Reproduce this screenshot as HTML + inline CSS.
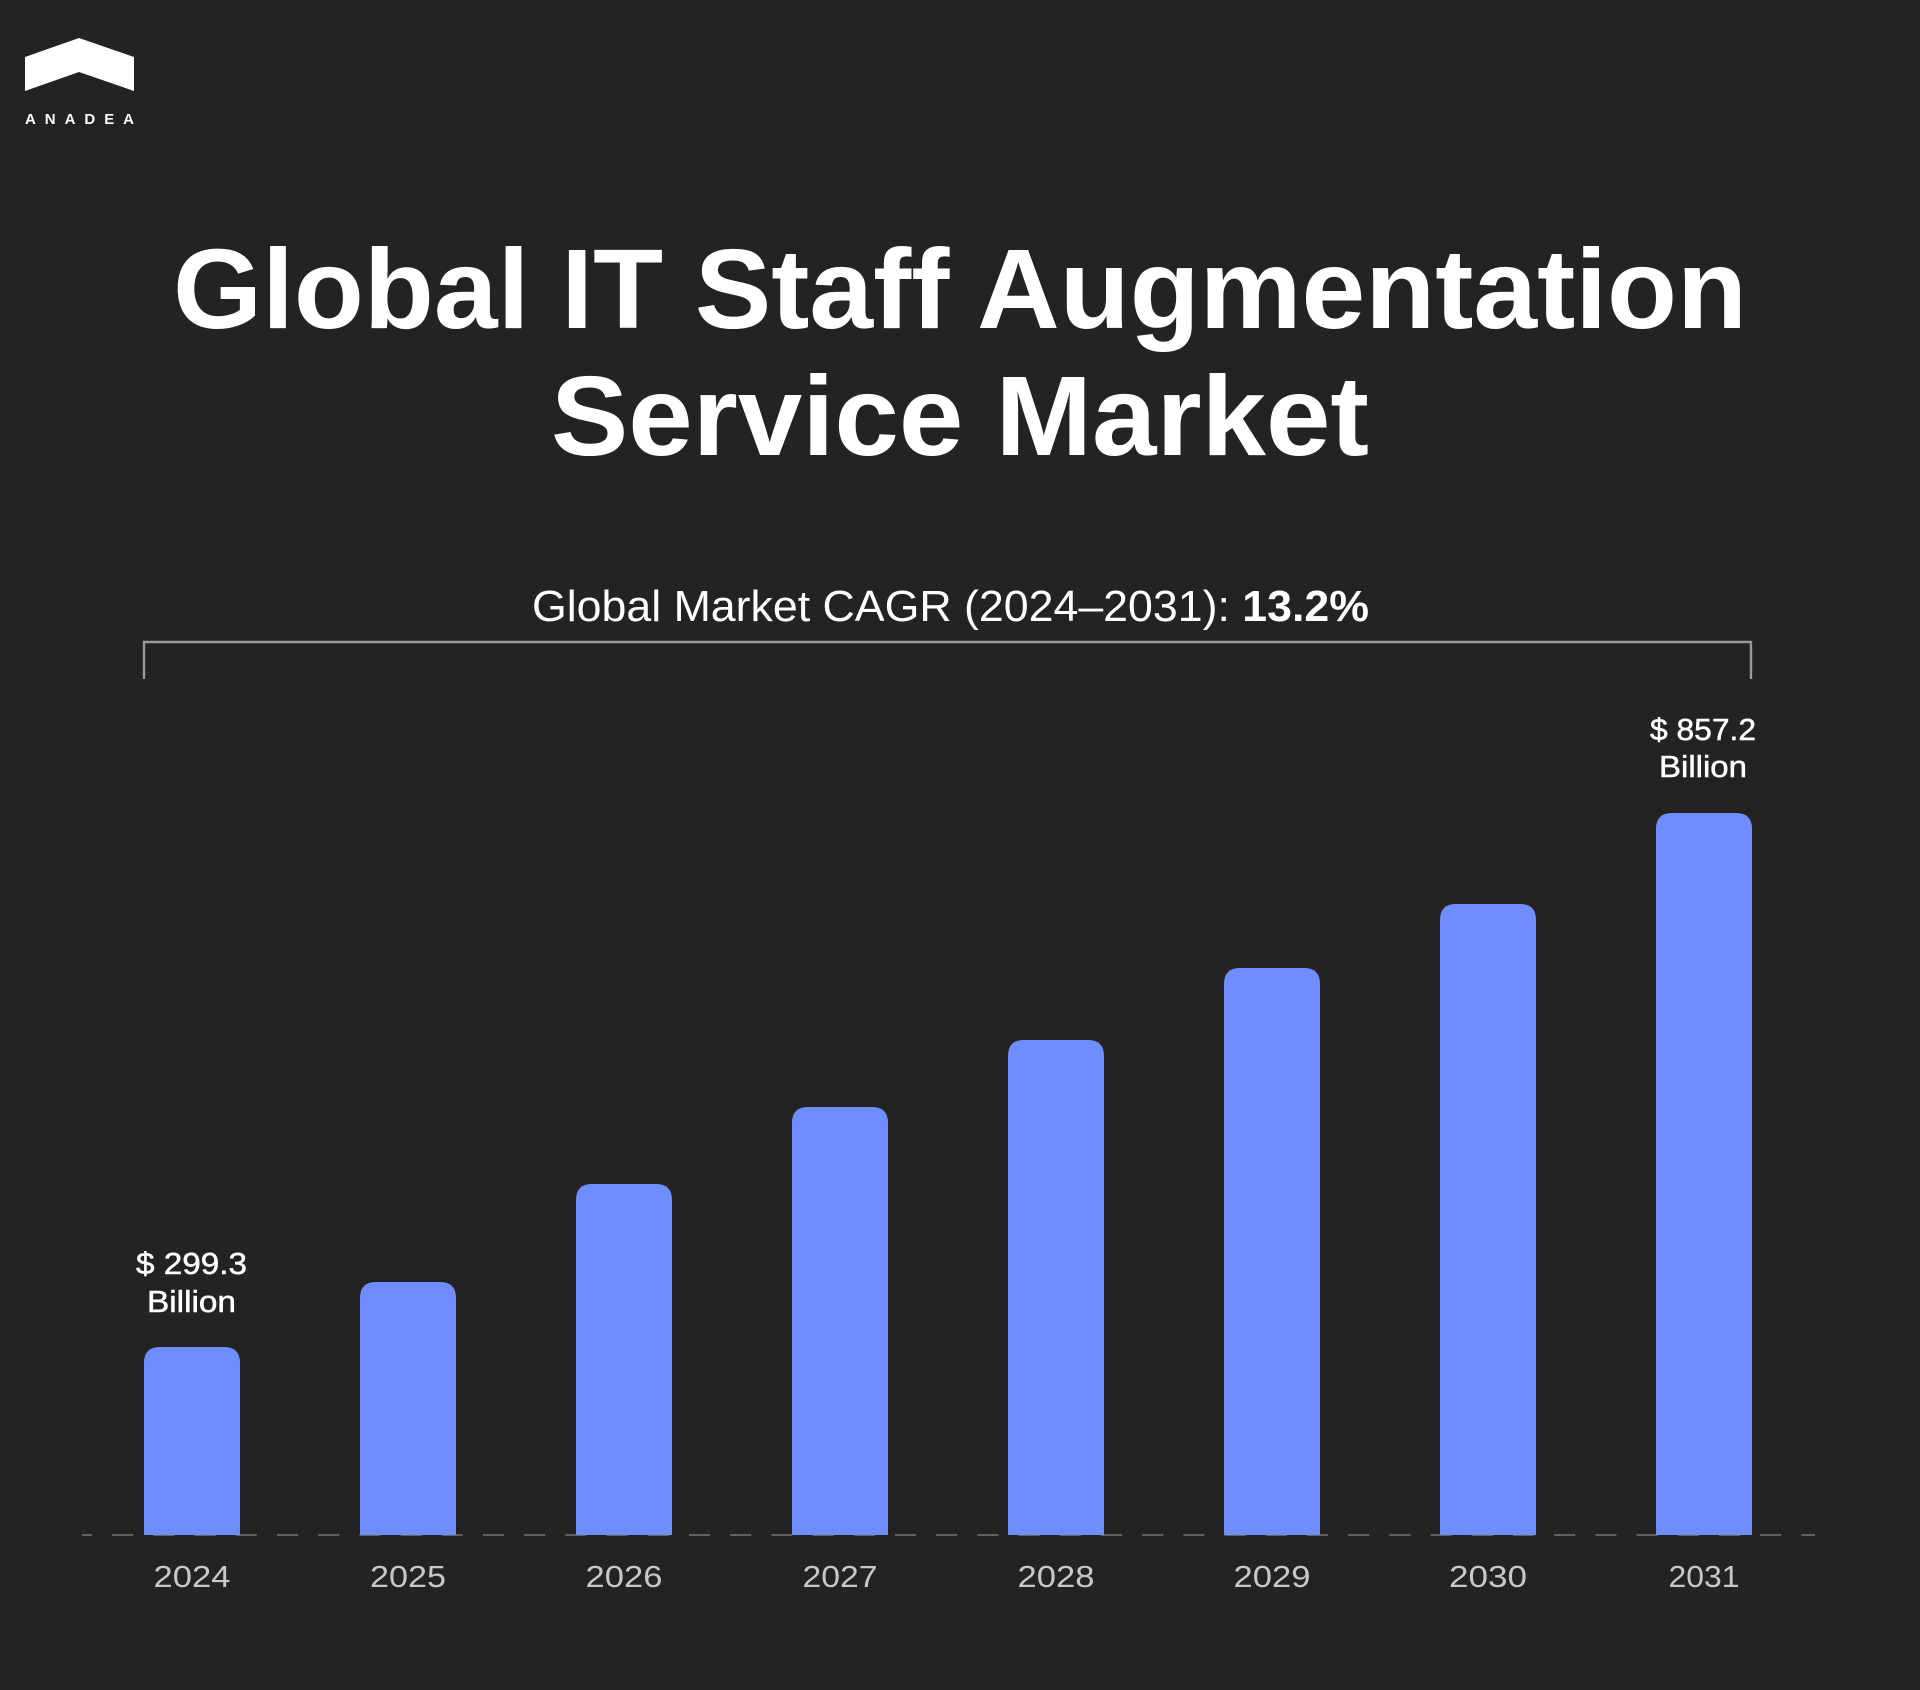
<!DOCTYPE html>
<html>
<head>
<meta charset="utf-8">
<style>
  html, body { margin:0; padding:0; background:#232323; }
  body { width:1920px; height:1690px; overflow:hidden; }
  svg { display:block; }
</style>
</head>
<body>
<svg width="1920" height="1690" viewBox="0 0 1920 1690" xmlns="http://www.w3.org/2000/svg" font-family="'Liberation Sans', Arial, sans-serif">
  <rect x="0" y="0" width="1920" height="1690" fill="#232323"/>

  <!-- Logo -->
  <polygon points="25,57 79,38 134,57 134,91 79,72 25,91" fill="#ffffff"/>
  <text x="25" y="124" font-size="15" font-weight="bold" fill="#ffffff" textLength="109" lengthAdjust="spacing">ANADEA</text>

  <!-- Title -->
  <text x="960" y="328" text-anchor="middle" font-size="113" font-weight="bold" fill="#ffffff" textLength="1574" lengthAdjust="spacingAndGlyphs">Global IT Staff Augmentation</text>
  <text x="960" y="455" text-anchor="middle" font-size="113" font-weight="bold" fill="#ffffff" textLength="818" lengthAdjust="spacingAndGlyphs">Service Market</text>

  <!-- Subtitle -->
  <text x="950.5" y="621" text-anchor="middle" font-size="44" fill="#ffffff" textLength="837" lengthAdjust="spacingAndGlyphs">Global Market CAGR (2024–2031): <tspan font-weight="bold">13.2%</tspan></text>

  <!-- Bracket -->
  <path d="M144,679 L144,642 L1751,642 L1751,679" fill="none" stroke="#9a9a9a" stroke-width="2.4"/>

  <!-- Baseline dashed -->
  <line x1="82" y1="1535" x2="1815" y2="1535" stroke="#616161" stroke-width="2" stroke-dasharray="21 20.2" stroke-dashoffset="11"/>

  <!-- Bars -->
  <g fill="#6f8dfe">
    <path d="M144,1535 L144,1363 Q144,1347 160,1347 L224,1347 Q240,1347 240,1363 L240,1535 Z"/>
    <path d="M360,1535 L360,1298 Q360,1282 376,1282 L440,1282 Q456,1282 456,1298 L456,1535 Z"/>
    <path d="M576,1535 L576,1200 Q576,1184 592,1184 L656,1184 Q672,1184 672,1200 L672,1535 Z"/>
    <path d="M792,1535 L792,1123 Q792,1107 808,1107 L872,1107 Q888,1107 888,1123 L888,1535 Z"/>
    <path d="M1008,1535 L1008,1056 Q1008,1040 1024,1040 L1088,1040 Q1104,1040 1104,1056 L1104,1535 Z"/>
    <path d="M1224,1535 L1224,984 Q1224,968 1240,968 L1304,968 Q1320,968 1320,984 L1320,1535 Z"/>
    <path d="M1440,1535 L1440,920 Q1440,904 1456,904 L1520,904 Q1536,904 1536,920 L1536,1535 Z"/>
    <path d="M1656,1535 L1656,829 Q1656,813 1672,813 L1736,813 Q1752,813 1752,829 L1752,1535 Z"/>
  </g>

  <!-- Value labels -->
  <g fill="#ffffff" stroke="#ffffff" stroke-width="0.5" font-size="31" text-anchor="middle">
    <text x="191.5" y="1274" textLength="111" lengthAdjust="spacingAndGlyphs">$ 299.3</text>
    <text x="191.5" y="1312" textLength="89" lengthAdjust="spacingAndGlyphs">Billion</text>
    <text x="1703" y="740" textLength="106" lengthAdjust="spacingAndGlyphs">$ 857.2</text>
    <text x="1703" y="777" textLength="88" lengthAdjust="spacingAndGlyphs">Billion</text>
  </g>

  <!-- Year labels -->
  <g fill="#c8c8c8" font-size="31" text-anchor="middle">
    <text x="192" y="1587" textLength="77" lengthAdjust="spacingAndGlyphs">2024</text>
    <text x="408" y="1587" textLength="76" lengthAdjust="spacingAndGlyphs">2025</text>
    <text x="624" y="1587" textLength="77" lengthAdjust="spacingAndGlyphs">2026</text>
    <text x="840" y="1587" textLength="75" lengthAdjust="spacingAndGlyphs">2027</text>
    <text x="1056" y="1587" textLength="77" lengthAdjust="spacingAndGlyphs">2028</text>
    <text x="1272" y="1587" textLength="77" lengthAdjust="spacingAndGlyphs">2029</text>
    <text x="1488" y="1587" textLength="78" lengthAdjust="spacingAndGlyphs">2030</text>
    <text x="1704" y="1587" textLength="71" lengthAdjust="spacingAndGlyphs">2031</text>
  </g>
</svg>
</body>
</html>
